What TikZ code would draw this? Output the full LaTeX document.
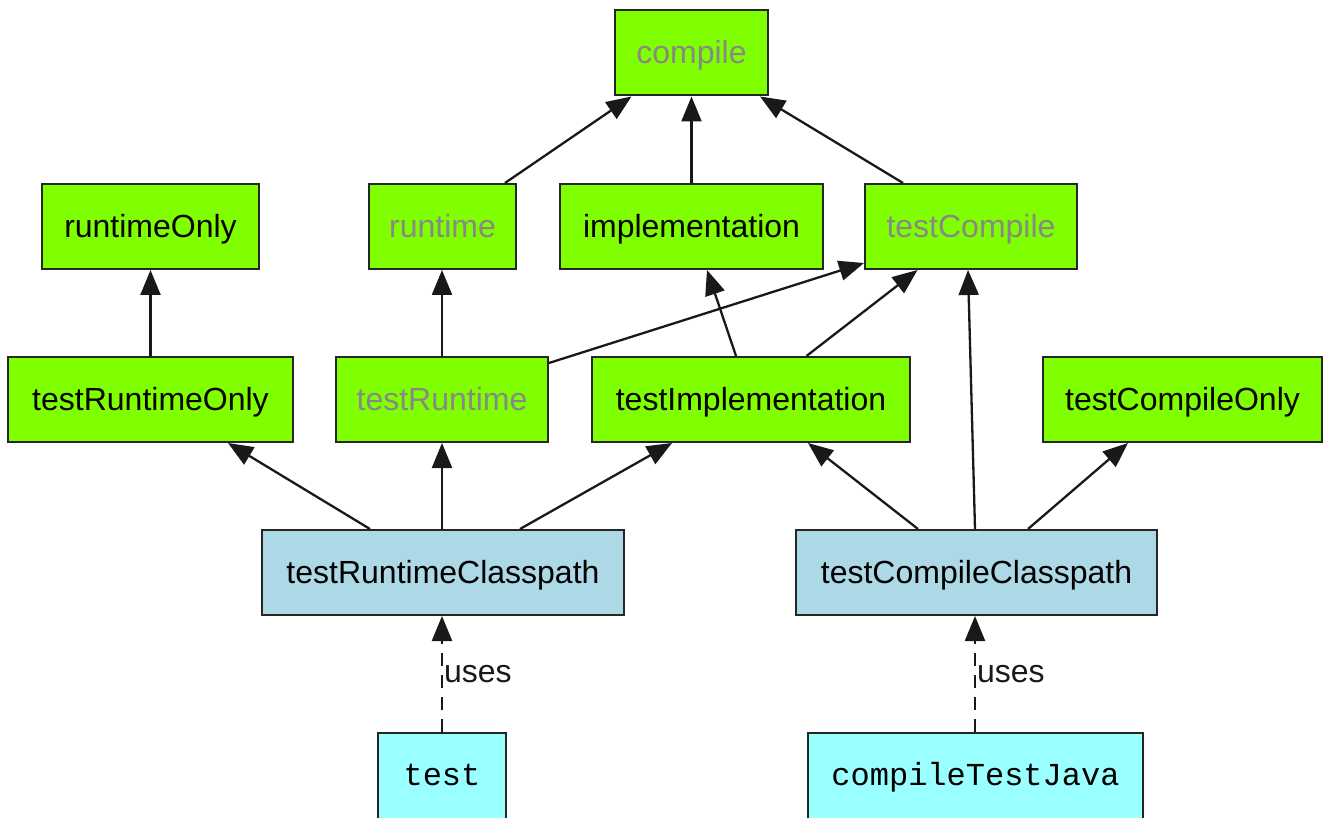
\documentclass[tikz,border=0pt]{standalone}
\usepackage{fontspec}
\setmainfont{Liberation Sans}
\setmonofont{Liberation Mono}
\usetikzlibrary{arrows.meta}
\definecolor{boxgreen}{RGB}{127,255,0}
\definecolor{cpblue}{RGB}{173,216,230}
\definecolor{taskcyan}{RGB}{153,255,255}
\definecolor{txtgray}{RGB}{136,136,136}
\begin{document}
\begin{tikzpicture}[x=1pt,y=-1pt,
  box/.style={draw=black!85, line width=2pt, rectangle, inner sep=0pt,
    minimum height=85pt, text height=22pt, text depth=0pt,
    font=\fontsize{32}{38}\selectfont},
  conf/.style={box, fill=boxgreen},
  dconf/.style={conf, text=txtgray},
  cpath/.style={box, fill=cpblue},
  task/.style={box, fill=taskcyan, minimum height=130pt, text height=20pt,
    text depth=46pt, font=\fontsize{32}{38}\ttfamily},
  dep/.style={-{Triangle[length=25pt,width=20pt]}, line width=2.3pt, black!90},
  uses/.style={dep, dash pattern=on 13pt off 9pt},
  lbl/.style={font=\fontsize{32}{38}\selectfont, inner sep=1pt}
  ]
\useasboundingbox (0,0) rectangle (1325,818);
\clip (0,0) rectangle (1325,818);
\fill[white] (0,0) rectangle (1325,818);

% row 1
\node[dconf, minimum width=153pt] (compile) at (691.5,53) {compile};
% row 2
\node[conf, minimum width=217pt] (runtimeOnly) at (150.5,226.5) {runtimeOnly};
\node[dconf, minimum width=147pt] (runtime) at (442.5,226.5) {runtime};
\node[conf, minimum width=263pt] (implementation) at (691.5,226.5) {implementation};
\node[dconf, minimum width=212pt] (testCompile) at (971,226.5) {testCompile};
% row 3
\node[conf, minimum width=285pt] (testRuntimeOnly) at (150.5,399.5) {testRuntimeOnly};
\node[dconf, minimum width=212pt] (testRuntime) at (442,399.5) {testRuntime};
\node[conf, minimum width=318pt] (testImplementation) at (751,399.5) {testImplementation};
\node[conf, minimum width=279pt] (testCompileOnly) at (1182.5,399.5) {testCompileOnly};
% row 4
\node[cpath, minimum width=362pt] (trc) at (443,572.5) {testRuntimeClasspath};
\node[cpath, minimum width=361pt] (tcc) at (976.5,572.5) {testCompileClasspath};
% row 5
\node[task, minimum width=128pt] (test) at (442,798) {test};
\node[task, minimum width=335pt] (ctj) at (975.5,798) {compileTestJava};

% edges
\draw[dep] ([xshift=62.5pt]runtime.north) -- ([xshift=-60pt]compile.south);
\draw[dep] (implementation.north) -- (compile.south);
\draw[dep] ([xshift=-68pt]testCompile.north) -- ([xshift=68.5pt]compile.south);

\draw[dep] (testRuntimeOnly.north) -- (runtimeOnly.south);
\draw[dep] (testRuntime.north) -- (testRuntime.north |- runtime.south);
\draw[dep] ([yshift=-7pt]testRuntime.north east) -- ([yshift=7pt]testCompile.south west);
\draw[dep] ([xshift=-15pt]testImplementation.north) -- ([xshift=15.5pt]implementation.south);
\draw[dep] ([xshift=55.5pt]testImplementation.north) -- ([xshift=-53.5pt]testCompile.south);

\draw[dep] ([xshift=-73pt]trc.north) -- ([xshift=77.5pt]testRuntimeOnly.south);
\draw[dep] ([xshift=-1pt]trc.north) -- (testRuntime.south);
\draw[dep] ([xshift=77pt]trc.north) -- ([xshift=-79pt]testImplementation.south);

\draw[dep] ([xshift=-58.5pt]tcc.north) -- ([xshift=57pt]testImplementation.south);
\draw[dep] ([xshift=-1.5pt]tcc.north) -- ([xshift=-3pt]testCompile.south);
\draw[dep] ([xshift=51.5pt]tcc.north) -- ([xshift=-54.5pt]testCompileOnly.south);

\draw[uses] (test.north) -- node[lbl, right] {uses} (test.north |- trc.south);
\draw[uses] ([xshift=-0.5pt]ctj.north) -- node[lbl, right] {uses} ([xshift=-1.5pt]tcc.south);
\end{tikzpicture}
\end{document}
